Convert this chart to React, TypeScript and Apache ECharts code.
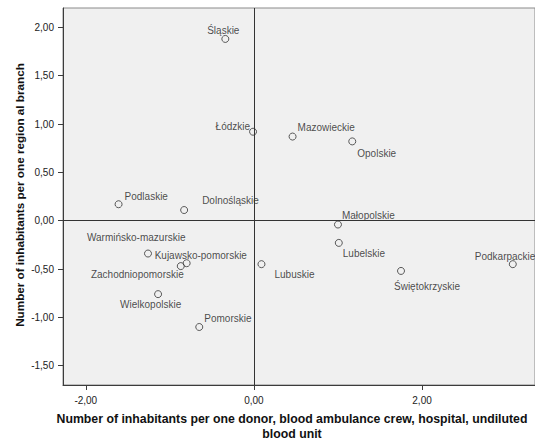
import React, { useEffect, useRef } from "react";
import * as echarts from "echarts";

const regions = [
  "Śląskie", "Łódzkie", "Podlaskie", "Dolnośląskie", "Mazowieckie", "Opolskie",
  "Małopolskie", "Lubelskie", "Lubuskie", "Świętokrzyskie", "Podkarpackie",
  "Warmińsko-mazurskie", "Kujawsko-pomorskie", "Zachodniopomorskie",
  "Wielkopolskie", "Pomorskie",
];
const xValues = [-0.34, -0.01, -1.61, -0.83, 0.46, 1.17, 1.0, 1.01, 0.09, 1.75, 3.08, -1.26, -0.8, -0.87, -1.14, -0.65];
const yValues = [1.88, 0.92, 0.17, 0.11, 0.87, 0.82, -0.04, -0.23, -0.45, -0.52, -0.45, -0.34, -0.44, -0.47, -0.76, -1.1];
const xTicks = [-2, 0, 2];
const yTicks = [-1.5, -1, -0.5, 0, 0.5, 1, 1.5, 2];

// label layout: [align, dx, dy] relative to the marker centre
const labelLayout: [string, number, number][] = [
  ["center", -2, -8],
  ["right", -3, -5],
  ["left", 6, -8],
  ["left", 18, -10],
  ["left", 5, -9],
  ["left", 5, 12],
  ["left", 4, -9],
  ["left", 4, 11],
  ["left", 13, 10],
  ["left", -7, 16],
  ["left", -38, -8],
  ["left", -61, -16],
  ["left", -32, -8],
  ["right", 3, 8],
  ["left", -38, 10],
  ["left", 5, -9],
];

const FONT = '"Liberation Sans", Arial, sans-serif';
const fmt = (v: number) => v.toFixed(2).replace(".", ",");

export default function App() {
  const ref = useRef<HTMLDivElement>(null);
  useEffect(() => {
    if (!ref.current) return;
    const chart = echarts.init(ref.current, undefined, { renderer: "svg" });
    const data = regions.map((name, i) => ({
      name,
      value: [xValues[i], yValues[i]],
      label: {
        show: true,
        position: "inside",
        align: labelLayout[i][0],
        verticalAlign: "middle",
        offset: [labelLayout[i][1], labelLayout[i][2]],
        formatter: name,
        color: "#1a1a1a",
        fontSize: 10,
        fontFamily: FONT,
      },
    }));
    chart.setOption({
      animation: false,
      backgroundColor: "#ffffff",
      grid: {
        left: 63,
        right: -1,
        top: 8,
        bottom: 56,
        show: true,
        backgroundColor: "#f0f0f0",
        borderColor: "#8a8a8a",
        borderWidth: 1,
      },
      xAxis: {
        type: "value",
        min: -2.271,
        max: 3.344,
        splitLine: { show: false },
        axisLine: { show: true, onZero: false, lineStyle: { color: "#3c3c3c", width: 1 } },
        axisTick: { show: true, length: 5, customValues: xTicks, lineStyle: { color: "#3c3c3c" } },
        axisLabel: {
          customValues: xTicks,
          formatter: (v: number) => fmt(v),
          margin: 10,
          fontSize: 10,
          fontFamily: FONT,
          color: "#222",
        },
      },
      yAxis: {
        type: "value",
        min: -1.7,
        max: 2.2,
        splitLine: { show: false },
        axisLine: { show: true, onZero: false, lineStyle: { color: "#3c3c3c", width: 1 } },
        axisTick: { show: true, length: 5, customValues: yTicks, lineStyle: { color: "#3c3c3c" } },
        axisLabel: {
          customValues: yTicks,
          formatter: (v: number) => fmt(v),
          margin: 9,
          fontSize: 10,
          fontFamily: FONT,
          color: "#222",
        },
      },
      graphic: [
        {
          type: "text",
          x: 292,
          y: 426.4,
          style: {
            text: "Number of inhabitants per one donor, blood ambulance crew, hospital, undiluted\nblood unit",
            fontSize: 12.3,
            fontWeight: "bold",
            fontFamily: FONT,
            fill: "#111",
            align: "center",
            verticalAlign: "middle",
            lineHeight: 15.3,
          },
        },
        {
          type: "text",
          x: 19,
          y: 195,
          rotation: Math.PI / 2,
          style: {
            text: "Number of inhabitants per one region al branch",
            fontSize: 11.7,
            fontWeight: "bold",
            fontFamily: FONT,
            fill: "#111",
            align: "center",
            verticalAlign: "middle",
          },
        },
      ],
      series: [
        {
          type: "scatter",
          symbol: "circle",
          symbolSize: 7,
          itemStyle: { color: "rgba(0,0,0,0)", borderColor: "#333", borderWidth: 1 },
          data,
          markLine: {
            silent: true,
            symbol: "none",
            label: { show: false },
            lineStyle: { color: "#333", width: 1, type: "solid" },
            data: [{ xAxis: 0 }, { yAxis: 0 }],
          },
        },
      ],
    });
    return () => chart.dispose();
  }, []);
  return (
    <div
      ref={ref}
      style={{ position: "fixed", left: 0, top: 0, width: 535, height: 441 }}
    />
  );
}
